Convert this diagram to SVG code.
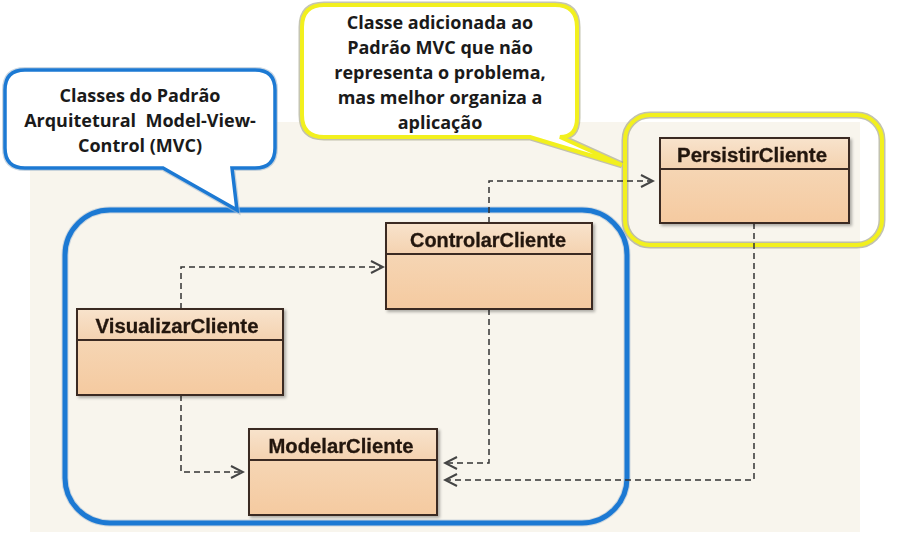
<svg xmlns="http://www.w3.org/2000/svg" width="910" height="541" viewBox="0 0 910 541">
<style>
.cls{fill:url(#body);stroke:#3b2b22;stroke-width:2}
.ttl{fill:url(#head);stroke:#3b2b22;stroke-width:2}
.cname{font-family:"Liberation Sans",Arial,sans-serif;font-weight:bold;font-size:19.5px;fill:#24170f;text-anchor:middle;stroke:#24170f;stroke-width:0.3}
.note{font-family:"Open Sans","Noto Sans",sans-serif;font-weight:bold;font-size:18px;fill:#1a1a1a;text-anchor:middle}
.dep{fill:none;stroke:#333;stroke-width:1.5;stroke-dasharray:6 4}
</style>
<defs>
<linearGradient id="body" x1="0" y1="0" x2="0" y2="1"><stop offset="0" stop-color="#f6dcbf"/><stop offset="1" stop-color="#f5caa0"/></linearGradient>
<linearGradient id="head" x1="0" y1="0" x2="0" y2="1"><stop offset="0" stop-color="#f8e3cc"/><stop offset="1" stop-color="#f4d2b0"/></linearGradient>
<filter id="sh" x="-10%" y="-10%" width="120%" height="130%"><feDropShadow dx="2" dy="2" stdDeviation="1.5" flood-color="#000" flood-opacity="0.3"/></filter>
<marker id="open" viewBox="-14 -8 16 16" refX="0" refY="0" markerWidth="16" markerHeight="16" markerUnits="userSpaceOnUse" orient="auto">
<path d="M-12,-6 L0,0 L-12,6" fill="none" stroke="#444" stroke-width="2"/>
</marker>
</defs>
<rect width="910" height="541" fill="#ffffff"/>
<rect x="30" y="122" width="830" height="410" fill="#f8f5ed"/>

<g id="mvc-frame">
<rect x="65" y="210" width="562" height="313" rx="45" fill="none" stroke="#9fb7cf" stroke-width="7" opacity="0.5"/>
<rect x="65" y="210" width="562" height="313" rx="45" fill="none" stroke="#1c79d3" stroke-width="5"/>
</g>
<g id="persist-frame">
<rect x="625" y="115" width="257" height="130" rx="25" fill="none" stroke="#9a9a7a" stroke-width="7" opacity="0.6"/>
<rect x="625" y="115" width="257" height="130" rx="25" fill="none" stroke="#f2f01e" stroke-width="4"/>
</g>

<g id="note-mvc">
<path d="M25,70 H255 Q275,70 275,90 V148 Q275,168 255,168 H232 L237,210 L163,168 H25 Q5,168 5,148 V90 Q5,70 25,70 Z" fill="#ffffff" stroke="#a9bdd0" stroke-width="6" opacity="0.6"/>
<path d="M25,70 H255 Q275,70 275,90 V148 Q275,168 255,168 H232 L237,210 L163,168 H25 Q5,168 5,148 V90 Q5,70 25,70 Z" fill="#ffffff" stroke="#1c79d3" stroke-width="3.5"/>
<text class="note" x="140" y="102">Classes do Padrão</text>
<text class="note" x="140" y="127" xml:space="preserve">Arquitetural  Model-View-</text>
<text class="note" x="140" y="152">Control (MVC)</text>
</g>

<g id="note-persist">
<path d="M324,5 H555 Q577,5 577,27 V118 Q577,137 560,137 L622,165 L530,137 H324 Q302,137 302,115 V27 Q302,5 324,5 Z" fill="#ffffff" stroke="#a0a080" stroke-width="7" opacity="0.6"/>
<path d="M324,5 H555 Q577,5 577,27 V118 Q577,137 560,137 L622,165 L530,137 H324 Q302,137 302,115 V27 Q302,5 324,5 Z" fill="#ffffff" stroke="#f2f01e" stroke-width="4"/>
<text class="note" x="440" y="29">Classe adicionada ao</text>
<text class="note" x="440" y="54">Padrão MVC que não</text>
<text class="note" x="440" y="79">representa o problema,</text>
<text class="note" x="440" y="104">mas melhor organiza a</text>
<text class="note" x="440" y="129">aplicação</text>
</g>

<g id="connectors">
<path class="dep" d="M181,309 V267 H383" marker-end="url(#open)"/>
<path class="dep" d="M181,395 V472 H243" marker-end="url(#open)"/>
<path class="dep" d="M489,309 V463 H445" marker-end="url(#open)"/>
<path class="dep" d="M489,223 V181 H653" marker-end="url(#open)"/>
<path class="dep" d="M754,223 V480 H445" marker-end="url(#open)"/>
</g>

<g id="ControlarCliente" filter="url(#sh)">
<rect class="cls" x="386" y="223" width="206" height="86"/>
<rect class="ttl" x="386" y="223" width="206" height="31"/>
<text class="cname" x="488" y="247" textLength="156" lengthAdjust="spacingAndGlyphs">ControlarCliente</text>
</g>
<g id="VisualizarCliente" filter="url(#sh)">
<rect class="cls" x="77" y="309" width="206" height="86"/>
<rect class="ttl" x="77" y="309" width="206" height="31"/>
<text class="cname" x="177" y="333" textLength="163" lengthAdjust="spacingAndGlyphs">VisualizarCliente</text>
</g>
<g id="ModelarCliente" filter="url(#sh)">
<rect class="cls" x="249" y="429" width="188" height="86"/>
<rect class="ttl" x="249" y="429" width="188" height="31"/>
<text class="cname" x="341" y="453" textLength="145" lengthAdjust="spacingAndGlyphs">ModelarCliente</text>
</g>
<g id="PersistirCliente" filter="url(#sh)">
<rect class="cls" x="660" y="138" width="189" height="85"/>
<rect class="ttl" x="660" y="138" width="189" height="31"/>
<text class="cname" x="752" y="162" textLength="150" lengthAdjust="spacingAndGlyphs">PersistirCliente</text>
</g>
</svg>
